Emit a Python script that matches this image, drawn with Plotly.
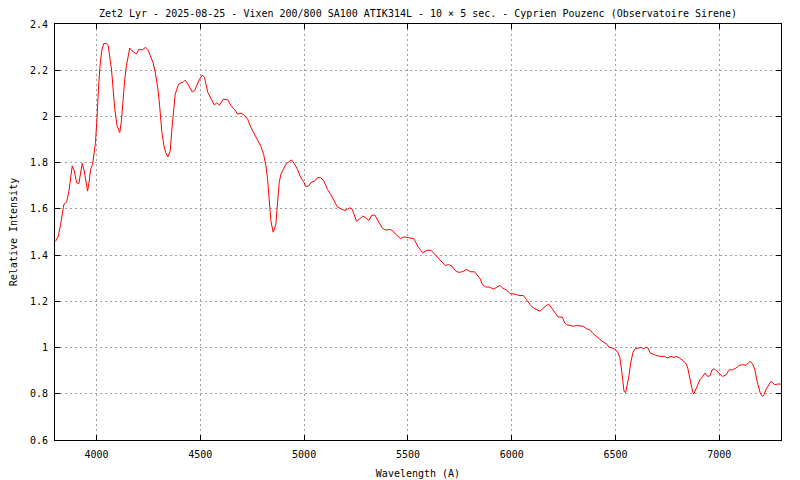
import plotly.graph_objects as go

wavelength = [3803, 3816, 3827, 3832, 3840, 3843, 3856, 3867, 3875, 3883, 3893, 3904, 3915, 3923, 3931, 3941,
              3952, 3957, 3965, 3971, 3981, 3989, 3995, 4002, 4005, 4011, 4019, 4027, 4035, 4048, 4056, 4064,
              4072, 4080, 4088, 4099, 4112, 4120, 4128, 4136, 4144, 4152, 4160, 4171, 4184, 4192, 4203, 4221,
              4237, 4248, 4259, 4272, 4283, 4296, 4304, 4315, 4325, 4333, 4344, 4355, 4363, 4371, 4379, 4392,
              4400, 4416, 4427, 4440, 4451, 4461, 4472, 4488, 4496, 4509, 4520, 4536, 4552, 4568, 4579, 4592,
              4611, 4632, 4648, 4664, 4680, 4696, 4712, 4728, 4744, 4760, 4776, 4792, 4805, 4816, 4824, 4832,
              4840, 4851, 4864, 4872, 4880, 4888, 4899, 4912, 4925, 4939, 4952, 4968, 4984, 5000, 5008, 5021,
              5035, 5051, 5064, 5080, 5096, 5112, 5128, 5144, 5160, 5176, 5197, 5208, 5220, 5232, 5240, 5252,
              5264, 5283, 5296, 5312, 5325, 5341, 5357, 5376, 5392, 5408, 5424, 5440, 5464, 5480, 5504, 5528,
              5539, 5552, 5571, 5592, 5611, 5629, 5648, 5667, 5680, 5696, 5712, 5728, 5741, 5752, 5768, 5784,
              5800, 5821, 5837, 5848, 5859, 5875, 5892, 5912, 5928, 5944, 5955, 5976, 5992, 6013, 6032, 6056,
              6072, 6088, 6104, 6120, 6136, 6152, 6168, 6180, 6192, 6208, 6224, 6243, 6256, 6264, 6280, 6296,
              6312, 6328, 6344, 6360, 6376, 6389, 6405, 6424, 6440, 6456, 6468, 6484, 6500, 6513, 6521, 6528,
              6536, 6541, 6549, 6556, 6564, 6573, 6584, 6595, 6608, 6624, 6636, 6645, 6656, 6667, 6688, 6713,
              6737, 6749, 6768, 6781, 6792, 6808, 6824, 6840, 6848, 6856, 6864, 6872, 6877, 6885, 6896, 6907,
              6920, 6931, 6944, 6955, 6965, 6976, 6989, 7003, 7016, 7032, 7048, 7064, 7080, 7096, 7112, 7128,
              7147, 7160, 7171, 7180, 7188, 7197, 7208, 7216, 7224, 7236, 7248, 7256, 7267, 7280, 7297]

intensity = [1.460, 1.482, 1.533, 1.569, 1.605, 1.620, 1.630, 1.677, 1.735, 1.786, 1.764, 1.713, 1.710, 1.764, 1.797, 1.764,
             1.706, 1.677, 1.720, 1.771, 1.793, 1.836, 1.887, 1.988, 2.060, 2.147, 2.241, 2.292, 2.316, 2.316, 2.306, 2.263,
             2.205, 2.118, 2.031, 1.959, 1.930, 1.981, 2.089, 2.161, 2.219, 2.251, 2.296, 2.284, 2.277, 2.270, 2.289, 2.289,
             2.299, 2.289, 2.263, 2.234, 2.191, 2.118, 2.046, 1.930, 1.872, 1.844, 1.825, 1.851, 1.945, 2.031, 2.096, 2.132,
             2.144, 2.147, 2.157, 2.140, 2.125, 2.106, 2.111, 2.147, 2.161, 2.179, 2.169, 2.104, 2.078, 2.049, 2.060, 2.049,
             2.075, 2.072, 2.046, 2.031, 2.010, 2.014, 2.005, 1.988, 1.952, 1.923, 1.901, 1.870, 1.836, 1.786, 1.728, 1.641,
             1.547, 1.499, 1.533, 1.627, 1.714, 1.750, 1.771, 1.793, 1.803, 1.812, 1.797, 1.771, 1.735, 1.714, 1.696, 1.699,
             1.716, 1.720, 1.735, 1.735, 1.720, 1.684, 1.663, 1.634, 1.609, 1.601, 1.593, 1.598, 1.605, 1.598, 1.576, 1.547,
             1.554, 1.569, 1.562, 1.550, 1.572, 1.573, 1.547, 1.518, 1.508, 1.511, 1.508, 1.491, 1.472, 1.479, 1.475, 1.472,
             1.453, 1.432, 1.410, 1.421, 1.421, 1.403, 1.384, 1.367, 1.355, 1.359, 1.352, 1.333, 1.326, 1.326, 1.330, 1.338,
             1.328, 1.328, 1.309, 1.297, 1.272, 1.262, 1.262, 1.253, 1.261, 1.269, 1.258, 1.248, 1.233, 1.232, 1.226, 1.225,
             1.207, 1.186, 1.171, 1.164, 1.157, 1.171, 1.183, 1.186, 1.171, 1.147, 1.132, 1.132, 1.106, 1.099, 1.096, 1.092,
             1.096, 1.095, 1.092, 1.082, 1.077, 1.063, 1.051, 1.037, 1.024, 1.017, 1.002, 0.998, 0.991, 0.976, 0.955, 0.911,
             0.861, 0.810, 0.806, 0.832, 0.875, 0.933, 0.979, 0.995, 0.998, 1.001, 0.994, 1.002, 0.998, 0.976, 0.969, 0.962,
             0.962, 0.955, 0.962, 0.957, 0.962, 0.955, 0.944, 0.930, 0.911, 0.875, 0.832, 0.806, 0.799, 0.814, 0.835, 0.861,
             0.875, 0.890, 0.875, 0.878, 0.904, 0.908, 0.897, 0.887, 0.875, 0.882, 0.904, 0.904, 0.911, 0.923, 0.926, 0.923,
             0.940, 0.930, 0.904, 0.861, 0.832, 0.803, 0.788, 0.796, 0.817, 0.835, 0.853, 0.849, 0.839, 0.842, 0.842]

title_text = "Zet2 Lyr - 2025-08-25 - Vixen 200/800 SA100 ATIK314L - 10 × 5 sec. - Cyprien Pouzenc (Observatoire Sirene)"
x_title = "Wavelength (A)"
y_title = "Relative Intensity"

FONT = "DejaVu Sans Mono"

fig = go.Figure()
fig.add_trace(go.Scatter(x=wavelength, y=intensity, mode="lines",
                         line=dict(color="#ff0000", width=1), showlegend=False))

axis_common = dict(showline=True, linecolor="black", linewidth=1, mirror="ticks",
                   ticks="inside", ticklen=5, tickcolor="black",
                   showgrid=True, gridcolor="#a0a0a0", gridwidth=1, griddash="2px,3px",
                   zeroline=False, tickfont=dict(family=FONT, size=10, color="black"))

# the page body adds an 8px offset; margins compensate so the plot box lands at 55..781 x 24..440
fig.update_layout(
    width=800, height=480,
    margin=dict(l=47, r=27, t=16, b=48, autoexpand=False),
    paper_bgcolor="white", plot_bgcolor="white",
    font=dict(family=FONT, size=10, color="black"),
    title=dict(text=title_text, x=0.5, xref="paper", xanchor="center",
               y=1 - 5 / 480, yref="container", yanchor="middle",
               font=dict(family=FONT, size=10, color="black")),
    xaxis=dict(range=[3800, 7297], tickmode="linear", tick0=4000, dtick=500,
               ticklabelstandoff=5,
               title=dict(text=x_title, standoff=10, font=dict(family=FONT, size=10)),
               **axis_common),
    yaxis=dict(range=[0.6, 2.4], tickmode="linear", tick0=0.6, dtick=0.2,
               ticklabelstandoff=4,
               title=dict(text=y_title, standoff=10, font=dict(family=FONT, size=10)),
               **axis_common),
)

fig.write_html("out.html")
